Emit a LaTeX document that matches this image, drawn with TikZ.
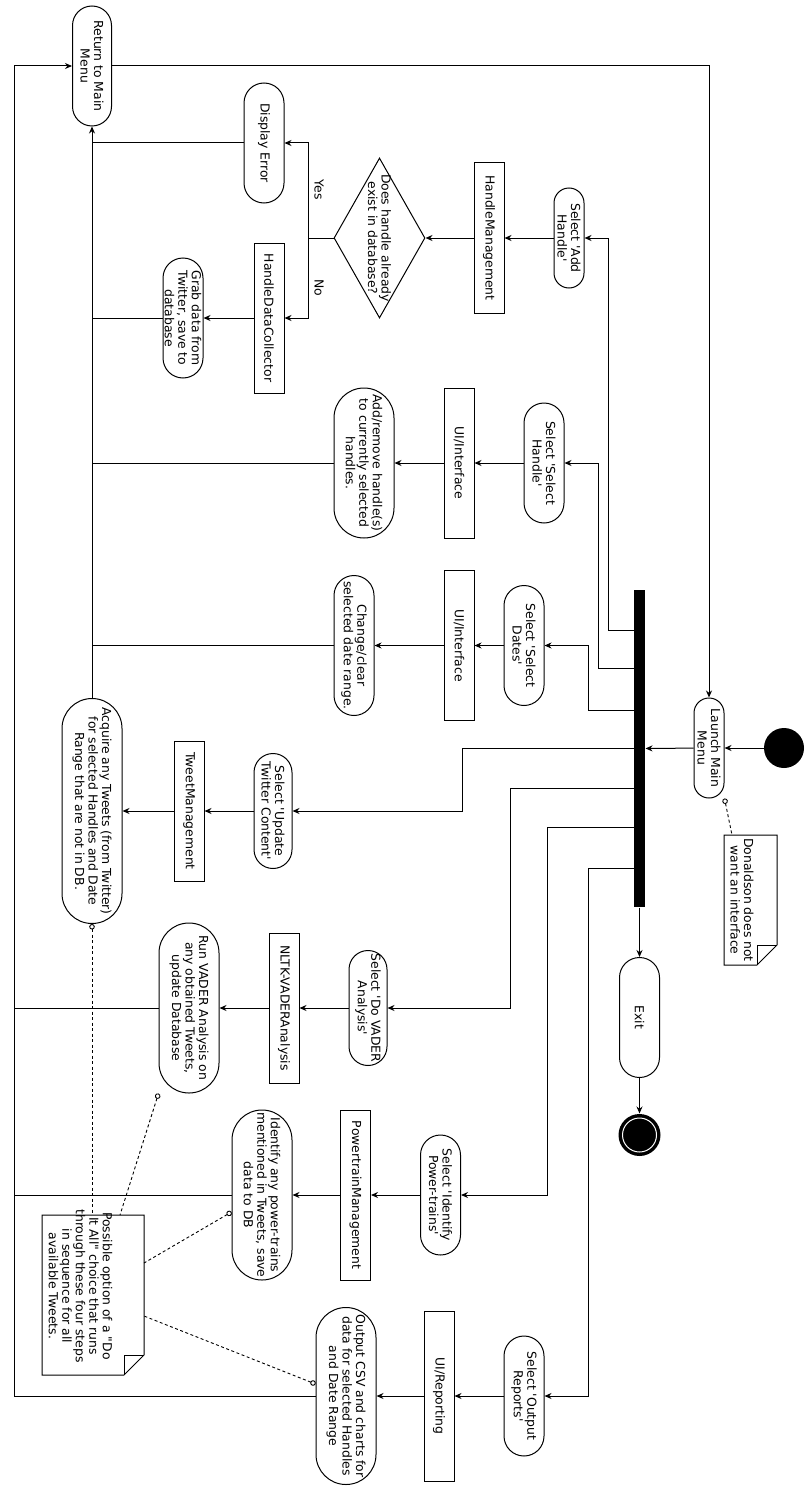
\documentclass[tikz,border=0pt]{standalone}
\usepackage{fontspec}
\setmainfont{DejaVu Sans}[Ligatures=TeXOff]
\usetikzlibrary{shapes.geometric,arrows.meta,calc}

\begin{document}
\begin{tikzpicture}[x=1pt,y=-1pt,line width=1pt,
                font=\fontsize{12.4}{13.5}\selectfont,
                act/.style 2 args={draw,rotate=-90,align=center,inner sep=1pt,
                    minimum height=#1,minimum width=#2,rounded corners=#1/2},
                cls/.style 2 args={draw,rotate=-90,inner sep=1pt,
                    minimum height=#1,minimum width=#2},
                flow/.style={-{Stealth[length=7pt,width=6pt]}},
                link/.style={dash pattern=on 3pt off 2.5pt,line width=0.9pt,
                    {Circle[open,length=5.5pt,width=5.5pt]}-}]
                \useasboundingbox (0,0) rectangle (810,1490);

                \node (init) [circle,fill,minimum size=40,inner sep=0] at (784,748) {};
                \node (launch) [act={30}{100}] at (709,748) {Launch Main\\Menu};
                \node (bar) [fill,minimum width=11,minimum height=317,inner sep=0] at (639.5,748.5) {};
                \node (ret) [act={39}{120}] at (92,66) {Return to Main\\Menu};
                \node (exit) [act={40}{120}] at (639.5,1017.5) {Exit};
                \node (final) [circle,fill,minimum size=42,inner sep=0] at (639.5,1135) {};
                \draw[white] (final.center) circle[radius=17pt];

                \node (addh) [act={30}{100}] at (569,238) {Select 'Add\\Handle'};
                \node (hman) [cls={30}{150}] at (489,238) {HandleManagement};
                \node (exist) [diamond,draw,rotate=-90,align=center,inner sep=-6pt,shape aspect=1.76,
                    minimum width=160,minimum height=91] at (379.5,238) {Does handle already\\exist in database?};
                \node (disp) [act={40}{120}] at (264,143) {Display Error};
                \node (hdc) [cls={30}{150}] at (269,318) {HandleDataCollector};
                \node (grab) [act={40}{120}] at (183,318) {Grab data from\\Twitter, save to\\database};
                \node (yes) [rotate=-90] at (319,190) {Yes};
                \node (no) [rotate=-90] at (319,288) {No};

                \node (seld) [act={40}{120}] at (544,463) {Select 'Select\\Handle'};
                \node (ui1) [cls={30}{150}] at (459,463) {UI/Interface};
                \node (addr) [act={60}{150}] at (364,463) {Add/remove handle(s)\\to currently selected\\handles.};

                \node (seldt) [act={40}{120}] at (524,645.5) {Select 'Select\\Dates'};
                \node (ui2) [cls={30}{150}] at (459,645.5) {UI/Interface};
                \node (chg) [act={40}{140}] at (354,645.5) {Change/clear\\selected date range.};

                \node (upd) [act={38}{115}] at (273,811) {Select 'Update\\Twitter Content'};
                \node (tman) [cls={30}{140}] at (189,811) {TweetManagement};
                \node (acq) [act={60}{225}] at (92,811) {Acquire any Tweets (from Twitter)\\for selected Handles and Date\\Range that are not in DB.};

                \node (vsel) [act={38}{115}] at (368,1008) {Select 'Do VADER\\Analysis'};
                \node (nltk) [cls={30}{150}] at (284,1008) {NLTK-VADERAnalysis};
                \node (vrun) [act={60}{170}] at (189,1008) {Run VADER Analysis on\\any obtained Tweets,\\update Database};

                \node (psel) [act={40}{120}] at (440.5,1195) {Select 'Identify\\Power-trains'};
                \node (pman) [cls={30}{170}] at (355.5,1195) {PowertrainManagement};
                \node (pid) [act={60}{170}] at (262,1195) {Identify any power-trains\\mentioned in Tweets, save\\data to DB};

                \node (osel) [act={40}{120}] at (524,1396) {Select 'Output\\Reports'};
                \node (urep) [cls={30}{170}] at (439,1396) {UI/Reporting};
                \node (out) [act={60}{177}] at (346,1396) {Output CSV and charts for\\data for selected Handles\\and Date Range};

                \node (dnote) [rotate=-90,align=center,inner sep=0] at (742,900) {Donaldson does not\\want an interface};
                \draw (724,835) -- (777,835) -- (777,945) -- (757,965) -- (724,965) -- cycle;
                \draw (777,945) -- (757,945) -- (757,965);
                \node (pnote) [rotate=-90,align=center,inner sep=0] at (80.5,1286) {Possible option of a "Do\\It All" choice that runs\\through these four steps\\in sequence for all\\available Tweets.};
                \draw (42,1215) -- (144,1215) -- (144,1355) -- (124,1375) -- (42,1375) -- cycle;
                \draw (144,1355) -- (124,1355) -- (124,1375);

                \coordinate (back) at (14,66);
                \coordinate (dn) at (732,835);
                \coordinate (pn1) at (92,1215);
                \coordinate (pn2) at (120,1215);
                \coordinate (pn3) at (144,1263);
                \coordinate (pn4) at (144,1316);

                \draw[flow] (init) -- (launch);
                \draw[flow] (launch) -- (bar);
                \draw[flow] (bar) -- (exit);
                \draw[flow] (exit) -- (final);
                \draw[flow] (ret) -| (launch);

                \draw[flow] ($(bar.north west)+(0,41)$) -- ++(-25,0) |- (addh);
                \draw[flow] ($(bar.north west)+(0,79)$) -- ++(-35,0) |- (seld);
                \draw[flow] ($(bar.north west)+(0,121)$) -- ++(-45,0) |- (seldt);
                \draw[flow] (bar.west) -- ++(-171,0) |- (upd);
                \draw[flow] ($(bar.north west)+(0,199)$) -- ++(-123,0) |- (vsel);
                \draw[flow] ($(bar.north west)+(0,238)$) -- ++(-86,0) |- (psel);
                \draw[flow] ($(bar.north west)+(0,279)$) -- ++(-45,0) |- (osel);

                \draw[flow] (addh) -- (hman);
                \draw[flow] (hman) -- (exist);
                \draw (exist.south) -- ++(-25,0) coordinate (yesno);
                \draw[flow] (yesno) |- (disp);
                \draw[flow] (yesno) |- (hdc);
                \draw[flow] (hdc) -- (grab);

                \draw[flow] (seld) -- (ui1);
                \draw[flow] (ui1) -- (addr);
                \draw[flow] (seldt) -- (ui2);
                \draw[flow] (ui2) -- (chg);
                \draw[flow] (upd) -- (tman);
                \draw[flow] (tman) -- (acq);
                \draw[flow] (vsel) -- (nltk);
                \draw[flow] (nltk) -- (vrun);
                \draw[flow] (psel) -- (pman);
                \draw[flow] (pman) -- (pid);
                \draw[flow] (osel) -- (urep);
                \draw[flow] (urep) -- (out);

                \draw (disp) -- (disp -| acq);
                \draw (grab) -- (grab -| acq);
                \draw (addr) -- (addr -| acq);
                \draw (chg) -- (chg -| acq);
                \draw[flow] (acq) -- (ret);

                \draw (vrun) -- (vrun -| back);
                \draw (pid) -- (pid -| back);
                \draw[flow] (out) -| (back) -- (ret);

                \draw[link] (launch.east -| launch.north) -- (dn);
                \draw[link] (acq.east) -- (pn1);
                \draw[link] (vrun.east -| vrun.south) -- (pn2);
                \draw[link] ($(pid.south)+(0,17)$) -- (pn3);
                \draw[link] ($(out.south)+(0,-12)$) -- (pn4);
\end{tikzpicture}
\end{document}
